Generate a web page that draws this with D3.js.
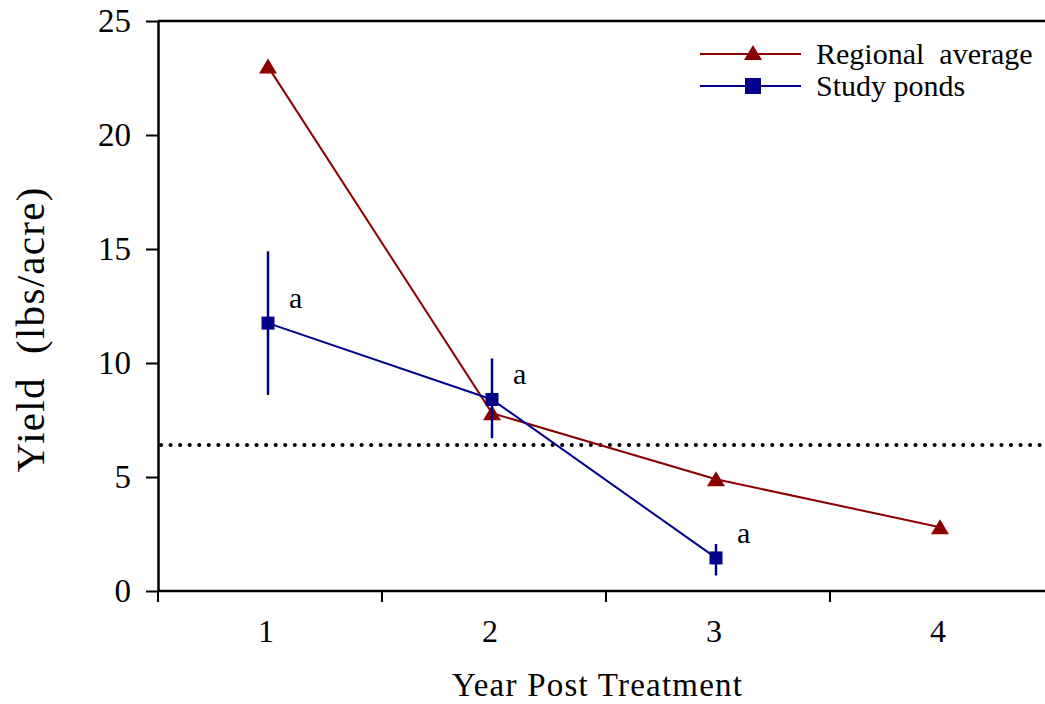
<!DOCTYPE html>
<html>
<head>
<meta charset="utf-8">
<script src="https://cdn.jsdelivr.net/npm/d3@7"></script>
<style>
  body { margin: 0; background: #fff; }
  svg text { font-family: "Liberation Serif", "Times New Roman", serif; fill: #000; white-space: pre; }
</style>
</head>
<body>
<svg id="chart"></svg>
<script>
// values
const years = ["1", "2", "3", "4"];
const regionalAvg = [23.0, 7.8, 4.9, 2.8];
const studyPonds = [11.75, 8.4, 1.45];
const studyLow = [8.6, 6.7, 0.68];
const studyHigh = [14.9, 10.2, 2.06];
const sigLetters = ["a", "a", "a"];
const refLine = 6.4;
const yTicks = [0, 5, 10, 15, 20, 25];
const seriesNames = ["Regional  average", "Study ponds"];

const width = 1045, height = 704;
const margin = {top: 21, left: 158, bottom: 113};
const red = "#8b0000", blue = "#00008b";

const svg = d3.select("#chart").attr("width", width).attr("height", height);

const x = d3.scaleBand().domain(years).range([margin.left, margin.left + 4 * 224]).padding(0);
const y = d3.scaleLinear().domain([0, 25]).range([height - margin.bottom, margin.top]);
const cx = d => x(d) + x.bandwidth() / 2 - 2;

// y axis
const yAxis = svg.append("g").attr("transform", `translate(${margin.left},0)`)
    .call(d3.axisLeft(y).tickValues(yTicks).tickSize(12).tickSizeOuter(0).tickPadding(15));
yAxis.select(".domain").attr("stroke-width", 2.5);
yAxis.selectAll(".tick line").attr("stroke-width", 2);
yAxis.selectAll("text").style("font-size", "33px");

// top frame line
svg.append("line").attr("x1", margin.left).attr("x2", width)
    .attr("y1", y(25)).attr("y2", y(25)).attr("stroke", "#000").attr("stroke-width", 2.5);

// x axis: labels at centres, ticks at band edges
const xAxis = svg.append("g").attr("transform", `translate(0,${y(0)})`)
    .call(d3.axisBottom(x).tickSize(0).tickPadding(28));
xAxis.select(".domain").remove();
xAxis.selectAll("text").style("font-size", "32px").attr("x", -4);
svg.append("line").attr("x1", margin.left).attr("x2", width)
    .attr("y1", y(0)).attr("y2", y(0)).attr("stroke", "#000").attr("stroke-width", 2.5);
svg.append("g").selectAll("line").data(years).join("line")
    .attr("x1", d => x(d)).attr("x2", d => x(d))
    .attr("y1", y(0)).attr("y2", y(0) + 11)
    .attr("stroke", "#000").attr("stroke-width", 2);

// axis titles
svg.append("text").attr("x", 597).attr("y", 696).attr("text-anchor", "middle")
    .style("font-size", "33px").attr("textLength", 290).text("Year Post Treatment");
svg.append("text").attr("transform", "translate(44,330) rotate(-90)").attr("text-anchor", "middle")
    .style("font-size", "41px").attr("textLength", 285).text("Yield  (lbs/acre)");

// dotted reference line
svg.append("line").attr("x1", margin.left + 3).attr("x2", width)
    .attr("y1", y(refLine)).attr("y2", y(refLine))
    .attr("stroke", "#000").attr("stroke-width", 4)
    .attr("stroke-linecap", "round").attr("stroke-dasharray", "0.1 9.45");

const triPath = "M0,-8L9,7L-9,7Z";

// regional average
const line = d3.line().x(d => cx(d[0])).y(d => y(d[1]));
const regData = years.map((d, i) => [d, regionalAvg[i]]);
svg.append("path").datum(regData).attr("d", line)
    .attr("fill", "none").attr("stroke", red).attr("stroke-width", 2);
svg.append("g").selectAll("path").data(regData).join("path")
    .attr("transform", d => `translate(${cx(d[0])},${y(d[1])})`)
    .attr("d", triPath).attr("fill", red);

// study ponds
const pondData = studyPonds.map((v, i) => [years[i], v, studyLow[i], studyHigh[i]]);
svg.append("g").selectAll("line").data(pondData).join("line")
    .attr("x1", d => cx(d[0])).attr("x2", d => cx(d[0]))
    .attr("y1", d => y(d[2])).attr("y2", d => y(d[3]))
    .attr("stroke", blue).attr("stroke-width", 2.5);
svg.append("path").datum(pondData).attr("d", line)
    .attr("fill", "none").attr("stroke", blue).attr("stroke-width", 2);
svg.append("g").selectAll("rect").data(pondData).join("rect")
    .attr("x", d => cx(d[0]) - 6.5).attr("y", d => y(d[1]) - 6.5)
    .attr("width", 13).attr("height", 13).attr("fill", blue);
svg.append("g").selectAll("text").data(pondData).join("text")
    .attr("x", d => cx(d[0]) + 21).attr("y", d => y(d[1]) - 15)
    .style("font-size", "30px").text((d, i) => sigLetters[i]);

// legend
const legend = svg.append("g");
[[red, 54], [blue, 86]].forEach(([c, ly], i) => {
  legend.append("line").attr("x1", 700).attr("x2", 801).attr("y1", ly).attr("y2", ly)
      .attr("stroke", c).attr("stroke-width", 2);
  if (i === 0) legend.append("path").attr("transform", `translate(753,${ly - 1})`).attr("d", triPath).attr("fill", c);
  else legend.append("rect").attr("x", 745).attr("y", ly - 8).attr("width", 16).attr("height", 16).attr("fill", c);
  legend.append("text").attr("x", 816).attr("y", ly + 10).style("font-size", "30px").text(seriesNames[i]);
});
</script>
</body>
</html>
